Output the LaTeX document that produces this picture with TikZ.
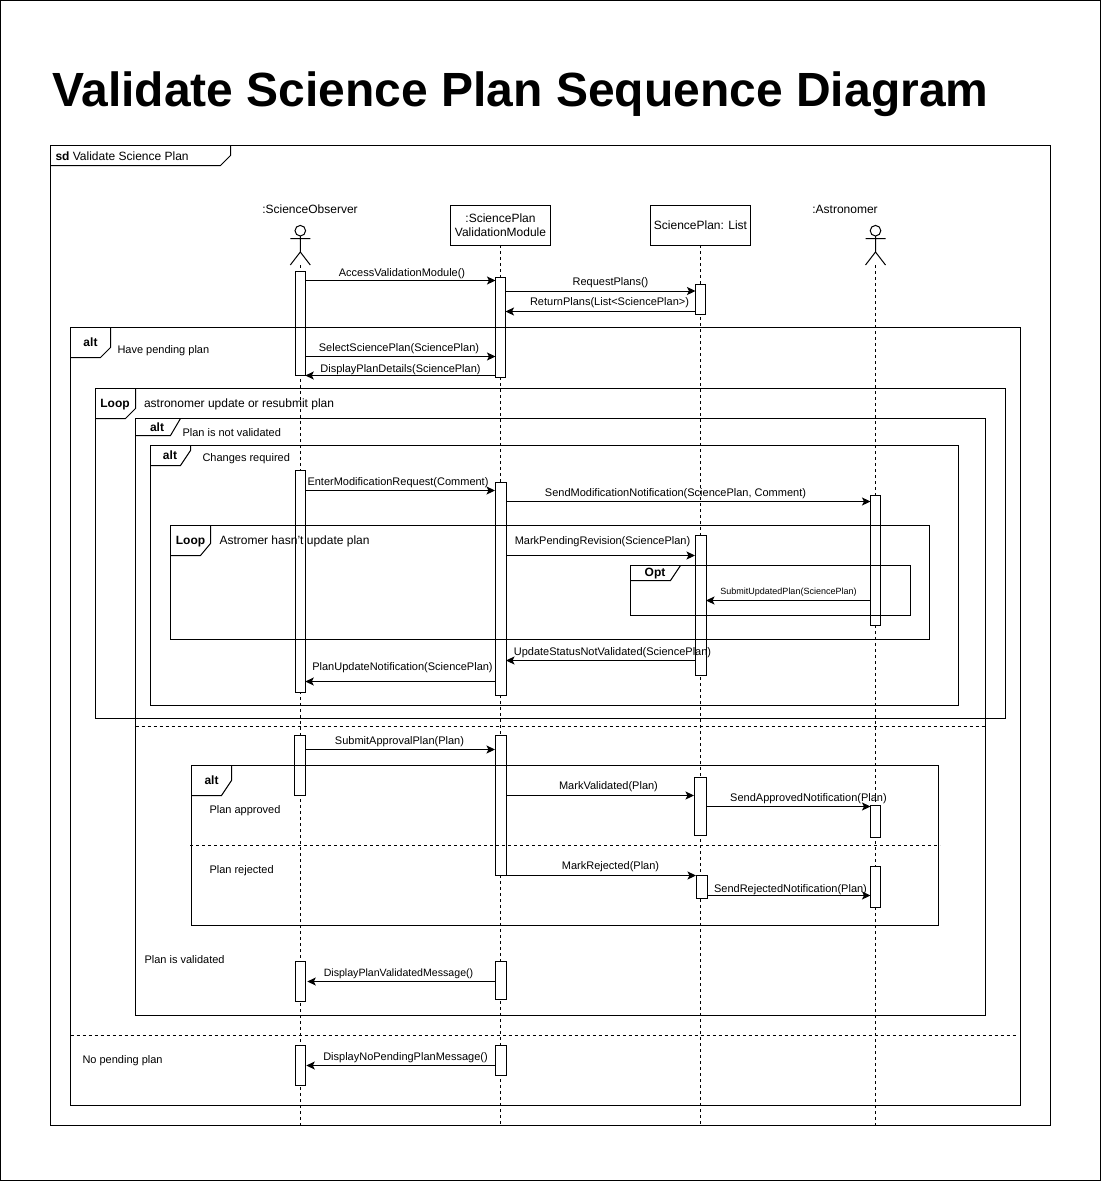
\documentclass[tikz,border=0pt]{standalone}
\usepackage{fontspec}
\setmainfont{Liberation Sans}
\usetikzlibrary{arrows.meta}
\tikzset{
  x=1pt,y=-1pt,
  every path/.style={line width=1pt},
  lifeline/.style={dash pattern=on 3pt off 3pt},
  actbar/.style={draw,fill=white,inner sep=0,outer sep=0,minimum width=10pt},
  msg/.style={-{Stealth[length=8.5pt,width=8pt,inset=2pt]}},
  msglabel/.style={font=\fontsize{11}{12}\selectfont,inner sep=0,yshift=-1pt},
  plain/.style={font=\fontsize{11}{12}\selectfont,inner sep=0,anchor=west,yshift=-1pt},
  framelabel/.style={font=\fontsize{12}{14}\selectfont\bfseries,inner sep=0,yshift=-0.7pt},
  framebox/.style={draw,inner sep=0,outer sep=0,anchor=north west},
  objbox/.style={draw,fill=white,inner sep=0,outer sep=0,minimum width=100pt,minimum height=40pt,align=center,font=\fontsize{12}{14.5}\selectfont},
  sep/.style={dash pattern=on 3pt off 3pt},
}
% name, x centre, y top, y bottom
\newcommand{\actbox}[5][10]{\node[actbar,minimum width=#1pt,minimum height={(#5-#4)*1pt},anchor=north] (#2) at (#3,#4) {};}
% name, left, top, right, bottom
\newcommand{\framerect}[5]{\node[framebox,minimum width={(#4-#2)*1pt},minimum height={(#5-#3)*1pt}] (#1) at (#2,#3) {};}
% actor
\newcommand{\stickman}[2]{%
  \coordinate (#1) at (#2,265);
  \draw (#2,230.7) circle (5.3pt);
  \draw (#2,236) -- (#2,252) (#2-10,238.7) -- (#2+10,238.7) (#2-10,265) -- (#2,252) -- (#2+10,265);}
\begin{document}
\begin{tikzpicture}
\useasboundingbox (0,0) rectangle (1101,1181);
\draw (0.5,0.5) rectangle (1100.5,1180.5);
\node[inner sep=0,anchor=base west,font=\fontsize{48}{58}\selectfont\bfseries] (title) at (51.5,106) {Validate Science Plan Sequence Diagram};

% lifelines
\stickman{so}{300.3}
\stickman{ast}{875.5}
\node[objbox] (vm) at (500.5,225) {:SciencePlan\\ValidationModule};
\node[objbox] (lst) at (700.5,225) {SciencePlan: List};
\node[font=\fontsize{12}{14}\selectfont,inner sep=0] (solabel) at (310,209) {:ScienceObserver};
\node[font=\fontsize{12}{14}\selectfont,inner sep=0] (astlabel) at (845,209) {:Astronomer};
\coordinate (soend) at (300.3,1125);
\coordinate (vmend) at (500.5,1125);
\coordinate (lstend) at (700.5,1125);
\coordinate (astend) at (875.5,1125);
\draw[lifeline] (so) -- (soend);
\draw[lifeline] (vm) -- (vmend);
\draw[lifeline] (lst) -- (lstend);
\draw[lifeline] (ast) -- (astend);

% activation bars
\actbox{soA}{300.3}{271.5}{375.5}
\actbox{vmA}{500.5}{277.5}{377.5}
\actbox{lsA}{700.5}{284.5}{314.5}
\actbox{soB}{300.3}{470.5}{692}
\actbox[11]{vmB}{500.5}{482.5}{695.5}
\actbox{asB}{875.5}{495.5}{625.5}
\actbox[11]{lsB}{700.5}{535.5}{675.5}
\actbox[11]{soC}{300}{735.5}{795.5}
\actbox[11]{vmC}{500.5}{735.5}{875.5}
\actbox[12]{lsC}{700}{777.5}{835.5}
\actbox{asC}{875.5}{805.5}{837.5}
\actbox[11]{lsD}{701.5}{875.5}{898}
\actbox{asD}{875.5}{866.5}{907}
\actbox{soE}{300.3}{961.5}{1001.5}
\actbox[11]{vmE}{500.5}{961.5}{999.5}
\actbox{soF}{300.3}{1045.5}{1085.5}
\actbox[11]{vmF}{500.5}{1045.5}{1075.5}

% frames
\framerect{fsd}{50.5}{145.5}{1050.5}{1125.5}
\draw (50.5,165.5) -- (220.5,165.5) -- (230.5,155.5) -- (230.5,145.5);
\node[inner sep=0,anchor=west,font=\fontsize{12}{14}\selectfont] (sdlabel) at (55,156) {\textbf{sd} Validate Science Plan};

\framerect{fpend}{70.5}{327.5}{1020.5}{1105.5}
\draw (70.5,357.5) -- (100.5,357.5) -- (110.5,347.5) -- (110.5,327.5);
\node[framelabel] (fpendt) at (90.5,342) {alt};
\node[plain] (t1) at (117,349.5) {Have pending plan};

\framerect{floop}{95.5}{388.5}{1005.5}{718.5}
\draw (95.5,418.5) -- (125.5,418.5) -- (135.5,408.5) -- (135.5,388.5);
\node[framelabel] (floopt) at (115,404) {Loop};
\node[plain,font=\fontsize{12}{14}\selectfont] (t2) at (143.5,403) {astronomer update or resubmit plan};

\framerect{fval}{135.5}{418.5}{985.5}{1015.5}
\draw (135.5,435.5) -- (170.5,435.5) -- (180.5,418.5);
\node[framelabel] (fvalt) at (157,427) {alt};
\node[plain] (t3) at (182,432) {Plan is not validated};

\framerect{fchg}{150.5}{445.5}{958.5}{705.5}
\draw (150.5,465.5) -- (180.5,465.5) -- (190.5,450.5) -- (190.5,445.5);
\node[framelabel] (fchgt) at (170,454.5) {alt};
\node[plain] (t4) at (202,457.5) {Changes required};

\framerect{fast}{170.5}{525.5}{929.5}{639.5}
\draw (170.5,555.5) -- (200.5,555.5) -- (210.5,543.5) -- (210.5,525.5);
\node[framelabel] (fastt) at (190.5,541) {Loop};
\node[plain,font=\fontsize{12}{14}\selectfont] (t5) at (219,540) {Astromer hasn't update plan};

\framerect{fopt}{630.5}{565.5}{910.5}{615.5}
\draw (630.5,580.5) -- (670.5,580.5) -- (680.5,565.5);
\node[framelabel] (foptt) at (655,572.5) {Opt};

\framerect{fapp}{191.5}{765.5}{938.5}{925.5}
\draw (191.5,795.5) -- (221.5,795.5) -- (231.5,780.5) -- (231.5,765.5);
\node[framelabel] (fappt) at (211.5,780) {alt};
\node[plain] (t6) at (209,810) {Plan approved};
\node[plain] (t7) at (209,870) {Plan rejected};
\node[plain] (t8) at (144,959) {Plan is validated};
\node[plain] (t9) at (82,1060) {No pending plan};

\coordinate (d1a) at (135.5,726.5); \coordinate (d1b) at (985.5,726.5);
\coordinate (d2a) at (190,845.5);   \coordinate (d2b) at (940,845.5);
\coordinate (d3a) at (70.5,1035.5); \coordinate (d3b) at (1017,1035.5);
\draw[sep] (d1a) -- (d1b);
\draw[sep] (d2a) -- (d2b);
\draw[sep] (d3a) -- (d3b);

% messages
\draw[msg] (soA.east |- 0,280.5) -- (vmA.west |- 0,280.5);
\node[msglabel] (m1) at (402,273) {AccessValidationModule()};
\draw[msg] (vmA.east |- 0,291) -- (lsA.west |- 0,291);
\node[msglabel] (m2) at (610.5,281.5) {RequestPlans()};
\draw[msg] (lsA.west |- 0,311.5) -- (vmA.east |- 0,311.5);
\node[msglabel] (m3) at (609.5,301.5) {ReturnPlans(List<SciencePlan>)};
\draw[msg] (soA.east |- 0,356.5) -- (vmA.west |- 0,356.5);
\node[msglabel] (m4) at (399,348) {SelectSciencePlan(SciencePlan)};
\draw[msg] (vmA.west |- 0,375.5) -- (soA.east |- 0,375.5);
\node[msglabel] (m5) at (400.5,369) {DisplayPlanDetails(SciencePlan)};
\draw[msg] (soB.east |- 0,490.5) -- (vmB.west |- 0,490.5);
\node[msglabel] (m6) at (398,482) {EnterModificationRequest(Comment)};
\draw[msg] (vmB.east |- 0,501.5) -- (asB.west |- 0,501.5);
\node[msglabel] (m7) at (675.5,493) {SendModificationNotification(SciencePlan, Comment)};
\draw[msg] (vmB.east |- 0,555.5) -- (lsB.west |- 0,555.5);
\node[msglabel] (m8) at (602.5,541) {MarkPendingRevision(SciencePlan)};
\draw[msg] (asB.west |- 0,600.5) -- (lsB.east |- 0,600.5);
\node[msglabel,font=\fontsize{9}{10}\selectfont] (m9) at (788.5,591.5) {SubmitUpdatedPlan(SciencePlan)};
\draw[msg] (lsB.west |- 0,660.5) -- (vmB.east |- 0,660.5);
\node[msglabel] (m10) at (612.5,652) {UpdateStatusNotValidated(SciencePlan)};
\draw[msg] (vmB.west |- 0,681.5) -- (soB.east |- 0,681.5);
\node[msglabel] (m11) at (402.5,667) {PlanUpdateNotification(SciencePlan)};
\draw[msg] (soC.east |- 0,749.5) -- (vmC.west |- 0,749.5);
\node[msglabel] (m12) at (399.5,740.5) {SubmitApprovalPlan(Plan)};
\draw[msg] (vmC.east |- 0,795.5) -- (lsC.west |- 0,795.5);
\node[msglabel] (m13) at (608.5,785.5) {MarkValidated(Plan)};
\draw[msg] (lsC.east |- 0,806.5) -- (asC.west |- 0,806.5);
\node[msglabel] (m14) at (808.5,798) {SendApprovedNotification(Plan)};
\draw[msg] (vmC.east |- 0,875.5) -- (lsD.west |- 0,875.5);
\node[msglabel] (m15) at (610.5,866) {MarkRejected(Plan)};
\draw[msg] (lsD.east |- 0,895.5) -- (asD.west |- 0,895.5);
\node[msglabel] (m16) at (790.5,889) {SendRejectedNotification(Plan)};
\draw[msg] (vmE.west |- 0,981.5) -- ([xshift=2pt]soE.east |- 0,981.5);
\node[msglabel,font=\fontsize{10.6}{12}\selectfont] (m17) at (398.5,972.5) {DisplayPlanValidatedMessage()};
\draw[msg] (vmF.west |- 0,1065.5) -- ([xshift=1pt]soF.east |- 0,1065.5);
\node[msglabel] (m18) at (405.5,1056.5) {DisplayNoPendingPlanMessage()};
\end{tikzpicture}
\end{document}
